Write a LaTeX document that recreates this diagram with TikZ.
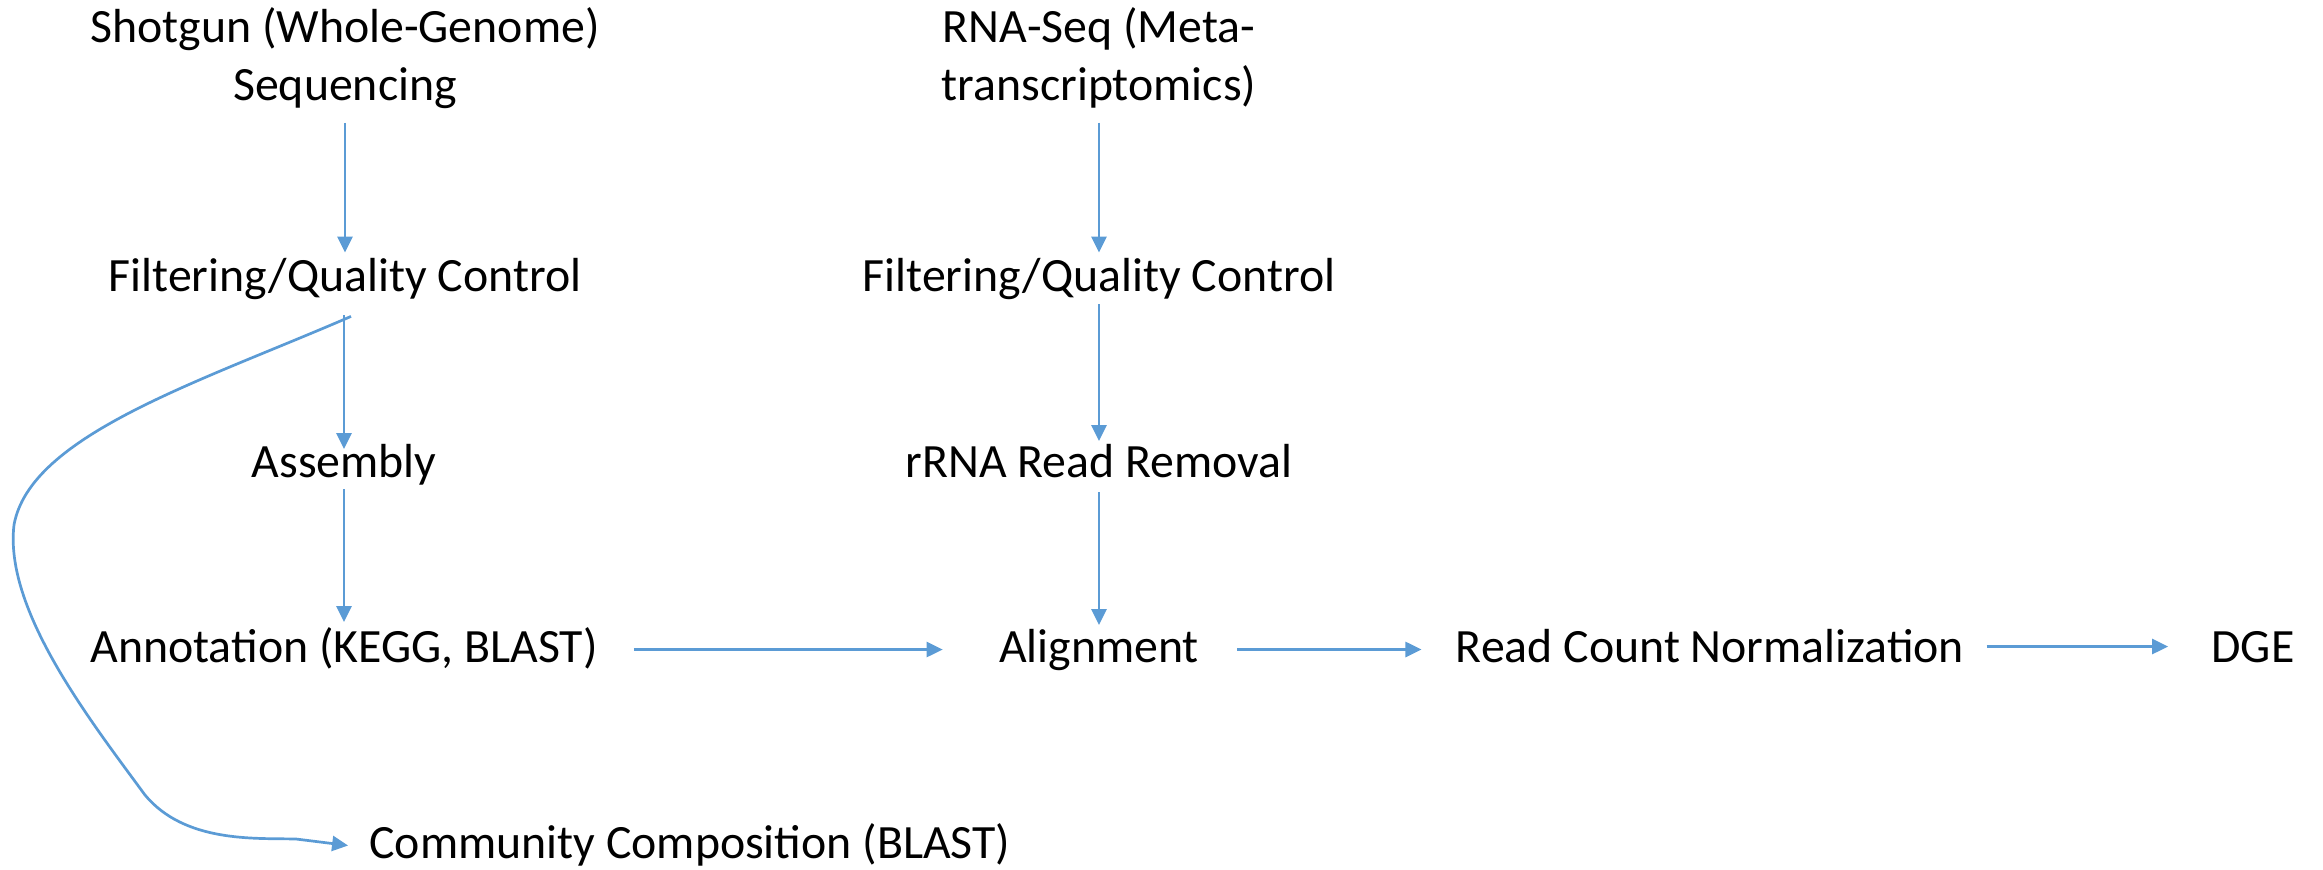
\documentclass[tikz,border=0pt]{standalone}
\usepackage{fontspec}
\setmainfont{Carlito}
\usetikzlibrary{arrows.meta}
\definecolor{flowblue}{HTML}{5B9BD5}
\begin{document}
\begin{tikzpicture}[x=0.5pt,y=-0.5pt,
  lbl/.style={inner sep=0pt,font=\fontsize{23.9}{29}\selectfont,text height=0.7em,text depth=0.25em},
  lbl2/.style={inner sep=0pt,font=\fontsize{23.9}{29}\selectfont,align=center},
  arr/.style={draw=flowblue,line width=1.35pt,-{Triangle[length=8pt,width=7.5pt]}}]
\useasboundingbox (0,0) rectangle (2323,869);

% left column: shotgun sequencing
\node[lbl2,anchor=center] (shot) at (345,58) {Shotgun (Whole-Genome)\\Sequencing};
\node[lbl,anchor=base] (fqc1) at (345,291) {Filtering/Quality Control};
\node[lbl,anchor=base] (asm) at (344,477) {Assembly};
\node[lbl,anchor=base] (ann) at (344,662) {Annotation (KEGG, BLAST)};
\node[lbl,anchor=base] (comm) at (690,858) {Community Composition (BLAST)};

% middle column: RNA-Seq
\node[lbl2,anchor=center] (rna) at (1099,58) {RNA-Seq (Meta-\\transcriptomics)};
\node[lbl,anchor=base] (fqc2) at (1099,291) {Filtering/Quality Control};
\node[lbl,anchor=base] (rrna) at (1099,477) {rRNA Read Removal};
\node[lbl,anchor=base] (aln) at (1099,662) {Alignment};

% bottom row
\node[lbl,anchor=base] (rcn) at (1710,662) {Read Count Normalization};
\node[lbl,anchor=base] (dge) at (2253,662) {DGE};

% vertical connectors
\draw[arr] ([yshift=-7pt]shot.south) -- ([yshift=12pt]fqc1.north);
\draw[arr] ([xshift=-0.5pt,yshift=-9.5pt]fqc1.south) -- ([yshift=6.75pt]asm.north);
\draw[arr] ([yshift=-3.5pt]asm.south) -- ([yshift=12.75pt]ann.north);
\draw[arr] ([yshift=-7pt]rna.south) -- ([yshift=12pt]fqc2.north);
\draw[arr] ([yshift=-4pt]fqc2.south) -- ([yshift=10.75pt]rrna.north);
\draw[arr] ([yshift=-5pt]rrna.south) -- ([yshift=11.25pt]aln.north);

% horizontal connectors
\draw[arr] ([xshift=18pt,yshift=4pt]ann.east) -- ([xshift=-28pt,yshift=4pt]aln.west);
\draw[arr] ([xshift=19pt,yshift=4pt]aln.east) -- ([xshift=-17pt,yshift=4pt]rcn.west);
\draw[arr] ([xshift=11pt,yshift=5.5pt]rcn.east) -- ([xshift=-21.5pt,yshift=5.5pt]dge.west);

% curved connector from filtering to community composition
\draw[arr] ([xshift=3pt,yshift=-10pt]fqc1.south)
  .. controls (200,382) and (30,435) .. (14,525)
  .. controls (4,610) and (90,720) .. (145,795)
  .. controls (185,843) and (255,838) .. (296,839)
  -- ([xshift=-10.5pt,yshift=4pt]comm.west);
\end{tikzpicture}
\end{document}
